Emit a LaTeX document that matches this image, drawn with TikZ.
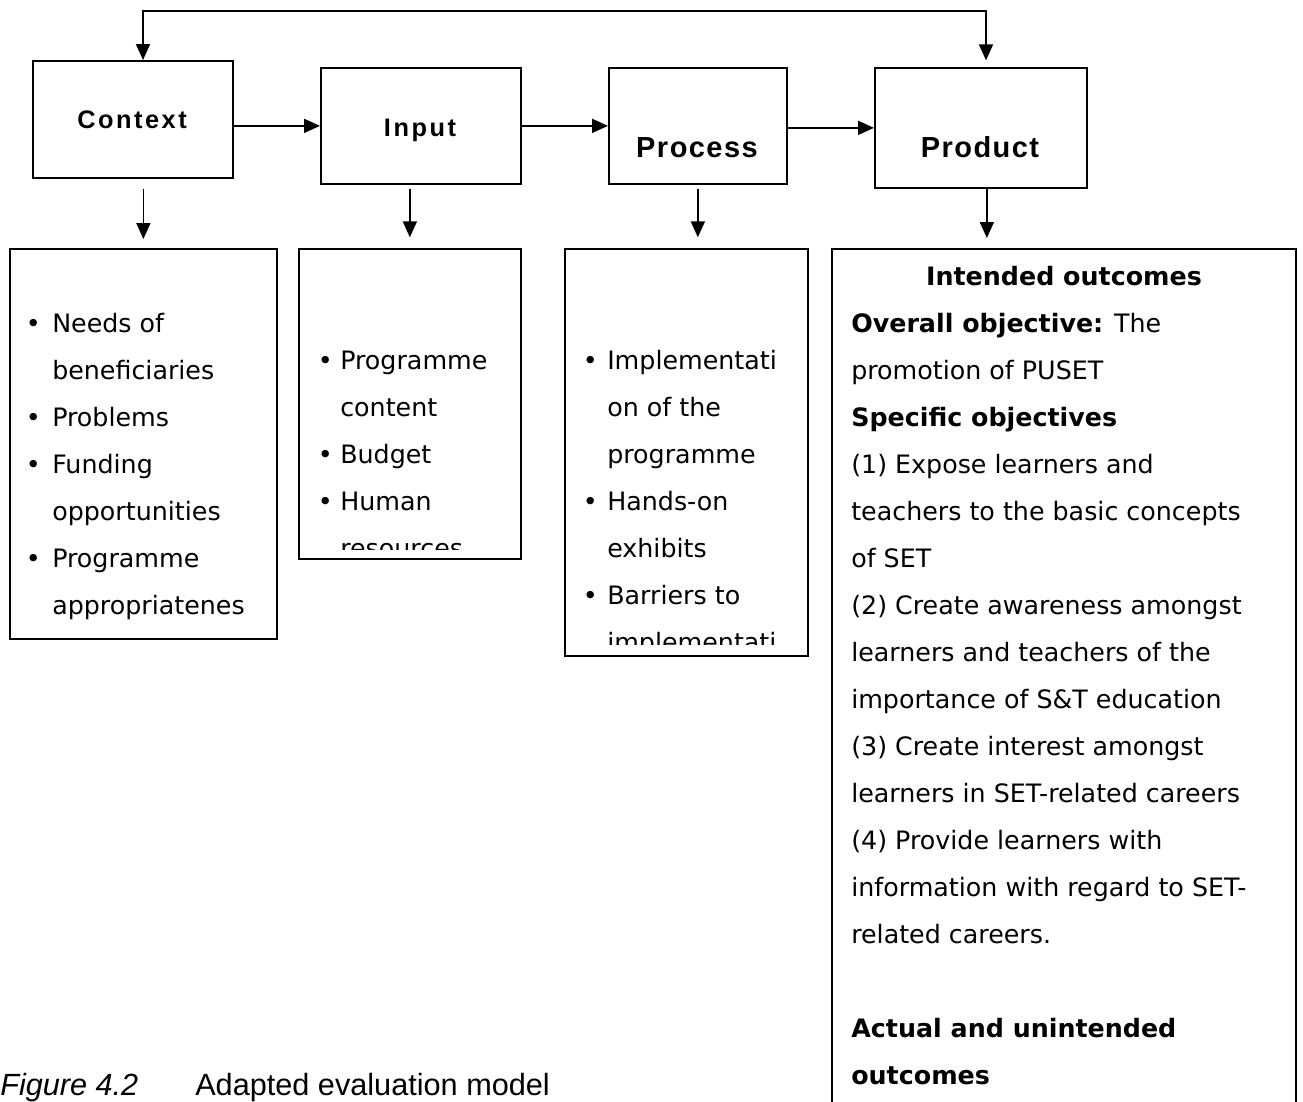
\documentclass[tikz,border=0pt]{standalone}
\usepackage{fontspec}
\setmainfont{DejaVu Sans}
\newfontfamily\arialf{Liberation Sans}
\usetikzlibrary{arrows.meta}
\newcommand\bodyfont{\fontsize{19}{35}\selectfont}
\newcommand\mytline[4]{\node[tl] (#1) at (#2,#3) {#4};}
\newcommand\mybul[3]{\node[tl] (#1) at (#2,#3) {•};}
\begin{document}
\begin{tikzpicture}[x=0.75pt,y=-0.75pt,
  box/.style={draw, line width=1.3pt, inner sep=0pt, anchor=north west},
  tip/.tip={Triangle[length=12pt,width=10.5pt]},
  arr/.style={line width=1.3pt, -tip},
  tl/.style={anchor=base west, inner sep=0pt, font=\bodyfont},
  tlc/.style={anchor=base, inner sep=0pt, font=\bodyfont\bfseries},
  ttls/.style={anchor=base, inner sep=0pt, font=\arialf\bfseries\fontsize{19}{20}\selectfont\addfontfeature{LetterSpace=10}},
  ttlb/.style={anchor=base, inner sep=0pt, font=\arialf\bfseries\fontsize{21.75}{24}\selectfont\addfontfeature{LetterSpace=5}},
  figcap/.style={anchor=base west, inner sep=0pt, font=\arialf\fontsize{23}{26}\selectfont}]
\useasboundingbox (0,0) rectangle (1303,1101);

% top boxes
\node[box, minimum width=150pt, minimum height=87.75pt] (ctx) at (32,60) {};
\node[box, minimum width=150pt, minimum height=87pt] (inp) at (320,67) {};
\node[box, minimum width=133.5pt, minimum height=87pt] (prc) at (608,67) {};
\node[box, minimum width=159pt, minimum height=90pt] (prd) at (874,67) {};

\node[ttls] (ctxt) at (132,128) {Context};
\node[ttls] (inpt) at (420,136) {Input};
\node[ttlb] (prct) at (697,157) {Process};
\node[ttlb] (prdt) at (980,157) {Product};

% list boxes
\node[box, minimum width=200.25pt, minimum height=292.5pt] (ctxl) at (9,248) {};
\node[box, minimum width=166.5pt, minimum height=232.5pt] (inpl) at (298,248) {};
\node[box, minimum width=182.25pt, minimum height=305.25pt] (prcl) at (564,248) {};
\node[box, minimum width=348pt, minimum height=652pt] (prdl) at (831,248) {};

% connectors
\draw[arr] (ctx.east |- inp.west) -- (inp.west);
\draw[arr] (inp.east |- prc.west) -- (prc.west);
\draw[arr] (prc.east |- prd.west) -- (prd.west);
\draw[arr, shorten <=7.5pt, shorten >=6.75pt] (ctxl.north |- ctx.south) -- (ctxl.north);
\draw[arr, shorten <=3pt, shorten >=8pt] (inpl.north |- inp.south) -- (inpl.north);
\draw[arr, shorten <=3pt, shorten >=8pt] (prc.south) -- (prc.south |- prcl.north);
\draw[arr, shorten >=7.5pt] ([xshift=4.5pt]prd.south) -- ([xshift=4.5pt]prd.south |- prdl.north);
\coordinate (topl) at (143,11);
\coordinate (topr) at (986,11);
\draw[line width=1.3pt, tip-tip, shorten >=5pt]
  (ctx.north -| topl) -- (topl) -- (topr) -- (prd.north -| topr);

% Context list
\mybul{cb1}{25.5}{332}\mytline{c1}{52}{332}{Needs of}
\mytline{c2}{52}{379}{beneficiaries}
\mybul{cb2}{25.5}{426}\mytline{c3}{52}{426}{Problems}
\mybul{cb3}{25.5}{473}\mytline{c4}{52}{473}{Funding}
\mytline{c5}{52}{520}{opportunities}
\mybul{cb4}{25.5}{567}\mytline{c6}{52}{567}{Programme}
\mytline{c7}{52}{614}{appropriatenes}

% Input list
\begin{scope}
\clip (298,248) rectangle (520,549);
\mybul{ib1}{317.5}{369}\mytline{i1}{340}{369}{Programme}
\mytline{i2}{340}{416}{content}
\mybul{ib2}{317.5}{463}\mytline{i3}{340}{463}{Budget}
\mybul{ib3}{317.5}{510}\mytline{i4}{340}{510}{Human}
\mytline{i5}{340}{557}{resources}
\end{scope}

% Process list
\begin{scope}
\clip (564,248) rectangle (807,644);
\mybul{pb1}{582.5}{369}\mytline{p1}{607}{369}{Implementati}
\mytline{p2}{607}{416}{on of the}
\mytline{p3}{607}{463}{programme}
\mybul{pb2}{582.5}{510}\mytline{p4}{607}{510}{Hands-on}
\mytline{p5}{607}{557}{exhibits}
\mybul{pb3}{582.5}{604}\mytline{p6}{607}{604}{Barriers to}
\mytline{p7}{607}{651}{implementati}
\end{scope}

% Product list
\node[tlc] (r0) at (1064,285) {Intended outcomes};
\mytline{r1}{851}{332}{\textbf{Overall objective:} The}
\mytline{r2}{851}{379}{promotion of PUSET}
\mytline{r3}{851}{426}{\textbf{Specific objectives}}
\mytline{r4}{851}{473}{(1) Expose learners and}
\mytline{r5}{851}{520}{teachers to the basic concepts}
\mytline{r6}{851}{567}{of SET}
\mytline{r7}{851}{614}{(2) Create awareness amongst}
\mytline{r8}{851}{661}{learners and teachers of the}
\mytline{r9}{851}{708}{importance of S\&T education}
\mytline{r10}{851}{755}{(3) Create interest amongst}
\mytline{r11}{851}{802}{learners in SET-related careers}
\mytline{r12}{851}{849}{(4) Provide learners with}
\mytline{r13}{851}{896}{information with regard to SET-}
\mytline{r14}{851}{943}{related careers.}
\mytline{r15}{851}{1037}{\textbf{Actual and unintended}}
\mytline{r16}{851}{1084}{\textbf{outcomes}}

% caption
\node[figcap] (fig) at (0,1095) {\textit{Figure 4.2}};
\node[figcap] (figt) at (195,1095) {Adapted evaluation model};
\end{tikzpicture}
\end{document}
